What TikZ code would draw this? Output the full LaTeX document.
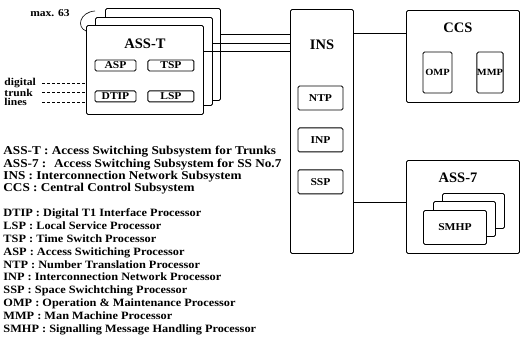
\documentclass[tikz,border=0pt]{standalone}
\usepackage{fontspec}
\setmainfont{Liberation Serif}
\newfontfamily\widefont{Liberation Serif}[FakeStretch=1.1]
\usetikzlibrary{positioning}

\begin{document}
\begin{tikzpicture}[
  x=1pt,y=-1pt,
  font=\bfseries,
  line width=0.9pt,
  node distance=17pt and 11pt,
  unit/.style={draw,fill=white,rounded corners=1.5pt,anchor=north west,inner sep=0pt},
  proc/.style={draw,fill=white,rounded corners=1.5pt,inner sep=0pt,font=\fontsize{10.5}{10.5}\widefont\bfseries},
  ttl/.style={font=\fontsize{14.5}{14.5}\selectfont\bfseries},
  lbl/.style={font=\fontsize{10.5}{10.5}\widefont\bfseries,inner sep=0pt},
  key/.style={align=left,anchor=north west,inner sep=0pt,font=\fontsize{11.2}{12.8}\widefont\bfseries},
  feed/.style={densely dashed,line width=0.5pt}
]
\useasboundingbox (0,0) rectangle (520,348);

% ASS-T, max. 63 units stacked
\node[unit,minimum width=115pt,minimum height=92pt] (asstc) at (105,8) {};
\node[unit,minimum width=117pt,minimum height=88pt] (asstb) at (95,17) {};
\node[unit,minimum width=117pt,minimum height=89pt] (assta) at (86,25) {};
\node[ttl] (asst) at (145,44) {ASS-T};
\node[proc,minimum width=41pt,minimum height=11pt] (asp) at (115.5,65.5) {ASP};
\node[proc,minimum width=46pt,minimum height=11pt,right=of asp] (tsp) {TSP};
\node[proc,minimum width=41pt,minimum height=11pt,below=19pt of asp] (dtip) {DTIP};
\node[proc,minimum width=46pt,minimum height=11pt,right=of dtip] (lsp) {LSP};

\node[lbl] (maxn) at (50,13) {max. 63};
\coordinate (brtop) at ([yshift=6pt]asstb.north west);
\coordinate (brbot) at ([yshift=-6pt]assta.north west);
\draw[line width=0.6pt] (brtop) .. controls (80,12) and (76,27) .. (brbot);

% trunk lines
\node[lbl,anchor=west] (dig) at (4,83) {digital};
\node[lbl,anchor=west] (trk) at (4,92.5) {trunk};
\node[lbl,anchor=west] (lin) at (4,102) {lines};
\coordinate (feedx) at (42,0);
\foreach \t in {dig,trk,lin}
  \draw[feed] (\t -| feedx) -- (\t -| assta.west);

% INS
\node[unit,minimum width=63pt,minimum height=244pt] (insbox) at (290,9) {};
\node[ttl] (ins) at (322,45) {INS};
\node[proc,minimum width=45pt,minimum height=24pt] (ntp) at (320.5,98) {NTP};
\node[proc,minimum width=45pt,minimum height=24pt,below=of ntp] (inp) {INP};
\node[proc,minimum width=45pt,minimum height=24pt,below=of inp] (ssp) {SSP};

% CCS
\node[unit,minimum width=113pt,minimum height=92pt] (ccsbox) at (406,10) {};
\node[ttl] (ccs) at (458,28) {CCS};
\node[proc,minimum width=29pt,minimum height=41pt,font=\fontsize{9.5}{9.5}\widefont\bfseries] (omp) at (437.5,72.5) {OMP};
\node[proc,minimum width=26pt,minimum height=41pt,font=\fontsize{9.5}{9.5}\widefont\bfseries] (mmp) at (490,72.5) {MMP};

% ASS-7
\node[unit,minimum width=113pt,minimum height=93pt] (ass7box) at (406,160) {};
\node[ttl] (ass7) at (458,178) {ASS-7};
\node[unit,minimum width=62pt,minimum height=35pt] (smhpc) at (442,193) {};
\node[unit,minimum width=62pt,minimum height=35pt] (smhpb) at (433,201) {};
\node[unit,minimum width=63pt,minimum height=34pt] (smhpa) at (423,210) {};
\node[lbl] (smhp) at (smhpa.center) {SMHP};

% links
\foreach \u in {asstc,asstb,assta} {
  \coordinate (tap) at ([yshift=-26pt]\u.north east);
  \draw (tap) -- (tap -| insbox.west);
}
\coordinate (cl) at ([yshift=-23pt]ccsbox.north west);
\draw (cl -| insbox.east) -- (cl);
\coordinate (al) at ([yshift=-42pt]ass7box.north west);
\draw (al -| insbox.east) -- (al);

% legend
\node[key,font=\fontsize{12}{12.2}\widefont\bfseries] (keysub) at (3,146) {ASS-T : Access Switching Subsystem for Trunks\\
ASS-7 :~ Access Switching Subsystem for SS No.7\\
INS : Interconnection Network Subsystem\\
CCS : Central Control Subsystem};
\node[key,below=14pt of keysub.south west,anchor=north west] (keyproc) {DTIP : Digital T1 Interface Processor\\
LSP : Local Service Processor\\
TSP : Time Switch Processor\\
ASP : Access Switiching Processor\\
NTP : Number Translation Processor\\
INP : Interconnection Network Processor\\
SSP : Space Swichtching Processor\\
OMP : Operation \& Maintenance Processor\\
MMP : Man Machine Processor\\
SMHP : Signalling Message Handling Processor};
\end{tikzpicture}
\end{document}
